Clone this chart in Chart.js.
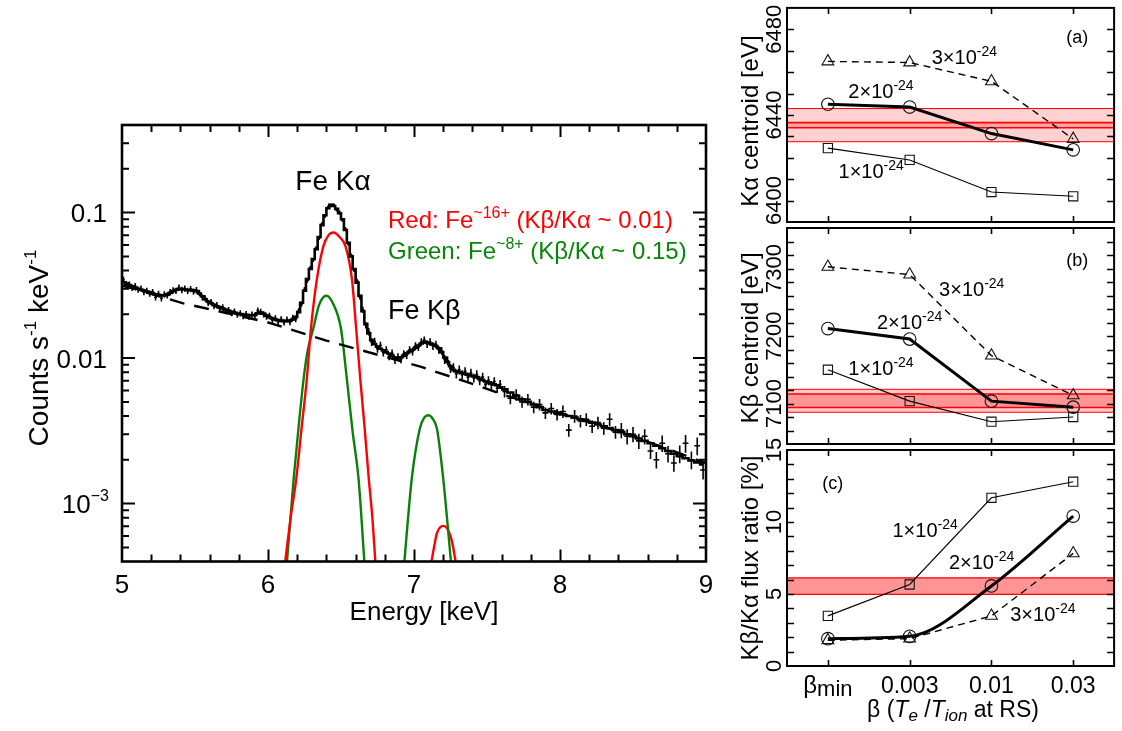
<!DOCTYPE html>
<html><head><meta charset="utf-8">
<script src="https://cdn.jsdelivr.net/npm/chart.js@4.4.1/dist/chart.umd.min.js"></script>
<style>
html,body{margin:0;padding:0;background:#fff;}
#wrap{position:relative;width:1122px;height:731px;overflow:hidden;background:#fff;}
canvas{position:absolute;left:0;top:0;}
</style></head><body><div id="wrap">
<canvas id="cSpec" width="1122" height="731"></canvas>
<canvas id="cA" width="1122" height="731"></canvas>
<canvas id="cB" width="1122" height="731"></canvas>
<canvas id="cC" width="1122" height="731"></canvas>
</div>
<script>
// ===================== DATA: left spectrum =====================
const binE = [
5.01,5.03,5.05,5.07,5.09,5.11,5.13,5.15,5.17,5.19,
5.21,5.23,5.25,5.27,5.29,5.31,5.33,5.35,5.37,5.39,
5.41,5.43,5.45,5.47,5.49,5.51,5.53,5.55,5.57,5.59,
5.61,5.63,5.65,5.67,5.69,5.71,5.73,5.75,5.77,5.79,
5.81,5.83,5.85,5.87,5.89,5.91,5.93,5.95,5.97,5.99,
6.01,6.03,6.05,6.07,6.09,6.11,6.13,6.15,6.17,6.19,
6.21,6.23,6.25,6.27,6.29,6.31,6.33,6.35,6.37,6.39,
6.41,6.43,6.45,6.47,6.49,6.51,6.53,6.55,6.57,6.59,
6.61,6.63,6.65,6.67,6.69,6.71,6.73,6.75,6.77,6.79,
6.81,6.83,6.85,6.87,6.89,6.91,6.93,6.95,6.97,6.99,
7.01,7.03,7.05,7.07,7.09,7.11,7.13,7.15,7.17,7.19,
7.21,7.23,7.25,7.27,7.29,7.31,7.33,7.35,7.37,7.39,
7.41,7.43,7.45,7.47,7.49,7.51,7.53,7.55,7.57,7.59,
7.62,7.66,7.70,7.74,7.78,7.82,7.86,7.90,7.94,7.98,
8.02,8.06,8.10,8.14,8.18,8.22,8.26,8.30,8.34,8.38,
8.42,8.46,8.50,8.54,8.58,8.62,8.66,8.70,8.74,8.78,
8.82,8.86,8.90,8.94,8.98];
const modelCounts = [
0.0330,0.0325,0.0318,0.0311,0.0305,0.0300,0.0295,0.0291,0.0287,0.0283,
0.0279,0.0275,0.0272,0.0270,0.0270,0.0273,0.0280,0.0288,0.0295,0.0298,
0.0298,0.0296,0.0294,0.0293,0.0292,0.0288,0.0278,0.0266,0.0254,0.0245,
0.0238,0.0232,0.0227,0.0223,0.0219,0.0215,0.0211,0.0208,0.0205,0.0202,
0.0200,0.0199,0.0198,0.0197,0.0197,0.0198,0.0203,0.0206,0.0202,0.0196,
0.0191,0.0187,0.0184,0.0182,0.0181,0.0180,0.0180,0.0181,0.0184,0.0192,
0.0207,0.0240,0.0290,0.0350,0.0410,0.0480,0.0560,0.0680,0.0820,0.0960,
0.1070,0.1130,0.1110,0.1060,0.0990,0.0900,0.0760,0.0620,0.0500,0.0410,
0.0330,0.0268,0.0210,0.0172,0.0148,0.0133,0.0125,0.0120,0.0116,0.0113,
0.0110,0.0107,0.0104,0.0101,0.0100,0.0101,0.0104,0.0108,0.0111,0.0114,
0.0118,0.0122,0.0126,0.0129,0.0128,0.0126,0.0124,0.0121,0.0117,0.0110,
0.0101,0.0094,0.0088,0.0083,0.0081,0.0080,0.0079,0.0078,0.0077,0.0076,
0.0075,0.0074,0.0072,0.0071,0.0069,0.0068,0.0067,0.0066,0.0065,0.0063,
0.0061,0.0058,0.0055,0.0052,0.0050,0.0048,0.0046,0.0044,0.0043,0.0042,
0.0041,0.0040,0.0039,0.0038,0.0037,0.0036,0.0035,0.0034,0.0033,0.0032,
0.0031,0.0030,0.0029,0.0028,0.0027,0.0026,0.0025,0.0024,0.0023,0.0022,
0.00212,0.00205,0.00198,0.00192,0.00186];
const dataCounts = [
0.0345,0.0322,0.0320,0.0305,0.0312,0.0296,0.0301,0.0285,0.0290,0.0278,
0.0284,0.0262,0.0276,0.0258,0.0274,0.0270,0.0284,0.0292,0.0290,0.0305,
0.0294,0.0301,0.0290,0.0298,0.0287,0.0293,0.0281,0.0262,0.0258,0.0240,
0.0243,0.0228,0.0231,0.0219,0.0223,0.0211,0.0214,0.0204,0.0209,0.0199,
0.0203,0.0195,0.0201,0.0193,0.0199,0.0196,0.0212,0.0208,0.0200,0.0193,
0.0195,0.0183,0.0188,0.0178,0.0185,0.0176,0.0184,0.0177,0.0189,0.0186,
0.0212,0.0236,0.0296,0.0343,0.0418,0.0472,0.0571,0.0668,0.0835,0.0948,
0.1085,0.1120,0.1125,0.1048,0.1002,0.0889,0.0772,0.0611,0.0508,0.0402,
0.0338,0.0262,0.0215,0.0168,0.0152,0.0129,0.0130,0.0116,0.0122,0.0109,
0.0114,0.0103,0.0108,0.0097,0.0102,0.0098,0.0107,0.0105,0.0114,0.0111,
0.0121,0.0119,0.0129,0.0133,0.0125,0.0129,0.0121,0.0124,0.0114,0.0112,
0.0098,0.0096,0.0085,0.0086,0.0078,0.0083,0.0077,0.0081,0.0074,0.0079,
0.0073,0.0077,0.0070,0.0074,0.0066,0.0070,0.0065,0.0069,0.0062,0.0066,
0.0059,0.0053,0.0056,0.0050,0.0052,0.0046,0.0048,0.0042,0.0045,0.0041,
0.0043,0.0032,0.0040,0.0037,0.0038,0.0034,0.0036,0.0033,0.0038,0.0031,
0.0032,0.0029,0.0030,0.0027,0.0029,0.0023,0.0020,0.0026,0.0022,0.0019,
0.0022,0.0026,0.0020,0.0025,0.0017];
const dataErrPct = [
5,5,5,5,5,5,5,5,5,5, 5,5,5,5,5,5,5,5,5,5, 5,5,5,5,5,5,5,5,5,5,
5,5,5,5,5,5,5,5,5,5, 5,5,5,5,5,5,5,5,5,5, 5,5,5,5,5,5,5,5,5,5,
4,4,4,4,3,3,3,3,3,3, 3,3,3,3,3,3,3,3,3,3,
4,4,5,5,6,6,6,6,6,6, 6,6,6,6,6,6,6,6,6,6,
6,6,6,6,6,6,6,6,6,6, 7,7,7,7,7,7,7,7,7,7, 7,7,7,7,7,7,7,7,7,7,
9,9,9,9,9,9,9,9,9,9, 10,10,10,10,10,10,10,10,10,10,
12,12,12,12,12,12,13,13,13,13, 14,14,14,14,14];
const contE = [5.0, 5.42, 5.99, 6.40, 7.05, 7.41, 7.59, 8.0, 8.5, 9.0];
const contV = [0.0316, 0.0238, 0.0177, 0.0132, 0.0087, 0.0066, 0.0057, 0.0042, 0.0029, 0.0019];
const redKaE = [6.118, 6.155, 6.194, 6.23, 6.266, 6.294, 6.335, 6.38, 6.415, 6.45, 6.49, 6.53, 6.575, 6.604, 6.632, 6.662, 6.69, 6.715, 6.735];
const redKaV = [0.0004, 0.0008, 0.00149, 0.0033, 0.0072, 0.0159, 0.0349, 0.059, 0.070, 0.073, 0.068, 0.059, 0.0349, 0.0159, 0.0072, 0.0033, 0.00149, 0.0008, 0.0004];
const greenKaE = [6.13, 6.176, 6.21, 6.244, 6.27, 6.31, 6.35, 6.40, 6.45, 6.50, 6.54, 6.58, 6.62, 6.66];
const greenKaV = [0.0004, 0.00149, 0.0034, 0.0072, 0.0110, 0.0159, 0.0232, 0.0268, 0.0232, 0.0159, 0.0072, 0.0031, 0.00149, 0.0004];
const greenKbE = [6.934, 6.985, 7.04, 7.07, 7.10, 7.13, 7.157, 7.20, 7.253];
const greenKbV = [0.0004, 0.00149, 0.00328, 0.0039, 0.00405, 0.0038, 0.00328, 0.00149, 0.0004];
const redKbE = [7.12, 7.14, 7.157, 7.20, 7.226, 7.26, 7.285];
const redKbV = [0.0004, 0.00052, 0.000626, 0.000703, 0.000677, 0.00055, 0.0004];
const specXTicks = [5, 6, 7, 8, 9];
const specYTicks = [0.1, 0.01, 0.001];

// ===================== DATA: right panels =====================
const categories = ['βmin', '0.003', '0.01', '0.03'];
const kaN1 = [6424.5, 6419, 6404, 6402];
const kaN2 = [6445, 6443.7, 6431.3, 6423.7];
const kaN3 = [6465, 6464.5, 6455.7, 6428.8];
const kaBandOuter = [6427.5, 6443];
const kaBandInner = [6434, 6436.4];
const kbN1 = [7150, 7103.5, 7073, 7080];
const kbN2 = [7211, 7195.5, 7103.5, 7094.5];
const kbN3 = [7302.5, 7291, 7171, 7112];
const kbBandOuter = [7087, 7121];
const kbBandInner = [7094, 7114];
const ratioN1 = [3.48, 5.66, 11.68, 12.8];
const ratioN2 = [1.9, 2.06, 5.56, 10.41];
const ratioN3 = [1.79, 1.9, 3.48, 7.82];
const ratioBand = [4.97, 6.12];
const kaTicks = [6400, 6440, 6480];
const kbTicks = [7100, 7200, 7300];
const ratioTicks = [0, 5, 10, 15];
const seriesNames = ['1×10', '2×10', '3×10'];
const seriesExp = '-24';

// ===================== helpers =====================
const FONT = "'Liberation Sans', Arial, Helvetica, sans-serif";
function setFont(ctx, size, style) { ctx.font = (style ? style + ' ' : '') + size + 'px ' + FONT; }
function richWidth(ctx, segs) { let w = 0; for (const s of segs) { setFont(ctx, s.size, s.style); w += ctx.measureText(s.t).width; } return w; }
function drawRich(ctx, segs, x, y, align, color) {
  ctx.save(); ctx.textBaseline = 'alphabetic'; ctx.textAlign = 'left';
  const w = richWidth(ctx, segs);
  let cx = align === 'center' ? x - w / 2 : (align === 'right' ? x - w : x);
  for (const s of segs) {
    setFont(ctx, s.size, s.style);
    ctx.fillStyle = s.color || color || '#000';
    ctx.fillText(s.t, cx, y + (s.dy || 0));
    cx += ctx.measureText(s.t).width;
  }
  ctx.restore();
}
function drawRotated(ctx, segs, x, y, color) {
  ctx.save(); ctx.translate(x, y); ctx.rotate(-Math.PI / 2);
  drawRich(ctx, segs, 0, 0, 'center', color); ctx.restore();
}
function S(t, size, o) { return Object.assign({ t: t, size: size }, o || {}); }
const baseOpts = {
  responsive: false, animation: false, devicePixelRatio: 1, events: [],
  plugins: { legend: { display: false }, tooltip: { enabled: false }, title: { display: false } }
};
function xy(xs, ys) { return xs.map((x, i) => ({ x: x, y: ys[i] })); }

// ===================== left spectrum =====================
const errPts = [];
binE.forEach((e, i) => {
  const prev = i > 0 ? e - binE[i - 1] : binE[i + 1] - e;
  const next = i < binE.length - 1 ? binE[i + 1] - e : prev;
  const h = Math.min(prev, next) / 2;
  const v = dataCounts[i], er = v * dataErrPct[i] / 100;
  errPts.push({ x: e - h, y: v }, { x: e + h, y: v }, { x: e, y: null });
  errPts.push({ x: e, y: v - er }, { x: e, y: v + er }, { x: e, y: null });
});

const specPlugin = {
  id: 'specDecor',
  afterDraw(chart) {
    const ctx = chart.ctx, ca = chart.chartArea, xs = chart.scales.x, ys = chart.scales.y;
    ctx.save();
    ctx.strokeStyle = '#000'; ctx.lineWidth = 2;
    ctx.beginPath();
    for (let k = 1; k < 20; k++) {
      const v = 5 + k * 0.2, px = Math.round(xs.getPixelForValue(v)) + 0.5;
      const L = (k % 5 === 0) ? 12 : 7;
      ctx.moveTo(px, ca.bottom); ctx.lineTo(px, ca.bottom - L);
      ctx.moveTo(px, ca.top); ctx.lineTo(px, ca.top + L);
    }
    for (let p = -4; p <= -1; p++) for (let m = 1; m <= 9; m++) {
      const v = m * Math.pow(10, p), py = ys.getPixelForValue(v);
      if (py < ca.top + 1 || py > ca.bottom - 1) continue;
      const L = m === 1 ? 13 : 7;
      ctx.moveTo(ca.left, py); ctx.lineTo(ca.left + L, py);
      ctx.moveTo(ca.right, py); ctx.lineTo(ca.right - L, py);
    }
    ctx.stroke();
    ctx.lineWidth = 2.6;
    ctx.strokeRect(ca.left, ca.top, ca.right - ca.left, ca.bottom - ca.top);
    // tick labels
    specXTicks.forEach(v => drawRich(ctx, [S(String(v), 26)], xs.getPixelForValue(v), ca.bottom + 31.5, 'center'));
    specYTicks.forEach(v => {
      const py = ys.getPixelForValue(v) + 9.5;
      if (v >= 0.01) drawRich(ctx, [S(String(v), 26)], ca.left - 15, py, 'right');
      else drawRich(ctx, [S('10', 26), S('−3', 16, { dy: -12 })], ca.left - 13, py, 'right');
    });
    // axis titles
    drawRich(ctx, [S('Energy [keV]', 26)], 424, 620, 'center');
    drawRotated(ctx, [S('Counts s', 28), S('-1', 17, { dy: -12 }), S(' keV', 28), S('-1', 17, { dy: -12 })], 48, 348);
    // annotations
    drawRich(ctx, [S('Fe Kα', 28)], 333, 190, 'center');
    drawRich(ctx, [S('Fe Kβ', 27)], 388, 319, 'left');
    drawRich(ctx, [S('Red: Fe', 24), S('~16+', 16, { dy: -10 }), S(' (Kβ/Kα ~ 0.01)', 24)], 388, 228, 'left', '#ff0000');
    drawRich(ctx, [S('Green: Fe', 24), S('~8+', 16, { dy: -10 }), S(' (Kβ/Kα ~ 0.15)', 24)], 388, 259, 'left', '#0a850a');
    ctx.restore();
  }
};

new Chart(document.getElementById('cSpec'), {
  type: 'line',
  data: {
    datasets: [
      { data: xy(binE, modelCounts), stepped: 'middle', borderColor: '#000', borderWidth: 2.6, pointRadius: 0, fill: false, order: 1 },
      { data: errPts, borderColor: '#000', borderWidth: 1.6, pointRadius: 0, spanGaps: false, fill: false, order: 2 },
      { data: xy(contE, contV), borderColor: '#000', borderWidth: 2.4, borderDash: [15, 10], pointRadius: 0, fill: false, order: 3 },
      { data: xy(redKaE, redKaV), borderColor: '#ff0000', borderWidth: 2.4, pointRadius: 0, cubicInterpolationMode: 'monotone', fill: false, order: 4 },
      { data: xy(greenKaE, greenKaV), borderColor: '#0a800a', borderWidth: 2.4, pointRadius: 0, cubicInterpolationMode: 'monotone', fill: false, order: 5 },
      { data: xy(greenKbE, greenKbV), borderColor: '#0a800a', borderWidth: 2.4, pointRadius: 0, cubicInterpolationMode: 'monotone', fill: false, order: 6 },
      { data: xy(redKbE, redKbV), borderColor: '#ff0000', borderWidth: 2.4, pointRadius: 0, cubicInterpolationMode: 'monotone', fill: false, order: 7 }
    ]
  },
  options: Object.assign({}, baseOpts, {
    layout: { padding: { left: 122, right: 416, top: 125, bottom: 169.5 } },
    scales: {
      x: { type: 'linear', min: 5, max: 9, display: false },
      y: { type: 'logarithmic', min: 0.0004, max: 0.4, display: false }
    }
  }),
  plugins: [specPlugin]
});

// ===================== right panels =====================
const seriesStyle = [
  { pointStyle: 'rect', radius: 6.5, width: 1.1, dash: [] },
  { pointStyle: 'circle', radius: 6.3, width: 3, dash: [] },
  { pointStyle: 'triangle', radius: 6.8, width: 1.4, dash: [7, 5] }
];
function bandSets(b, fillColor, lw, order) {
  return [
    { data: [{ x: -0.5, y: b[1] }, { x: 3.5, y: b[1] }], borderColor: '#ff0000', borderWidth: lw, pointRadius: 0, fill: '+1', backgroundColor: fillColor, order: order },
    { data: [{ x: -0.5, y: b[0] }, { x: 3.5, y: b[0] }], borderColor: '#ff0000', borderWidth: lw, pointRadius: 0, fill: false, order: order }
  ];
}
function makePanel(cfg) {
  const datasets = [];
  cfg.bands.forEach((b, i) => datasets.push(...bandSets(b.range, b.fill, b.lw, 10 + i)));
  cfg.series.forEach((vals, i) => {
    const st = seriesStyle[i];
    datasets.push({
      data: vals.map((v, k) => ({ x: k, y: v })), borderColor: '#000', borderWidth: st.width, borderDash: st.dash,
      pointStyle: st.pointStyle, pointRadius: st.radius, pointBorderWidth: 1.1, pointBorderColor: '#111',
      pointBackgroundColor: 'rgba(0,0,0,0)', fill: false, order: 3 - i,
      cubicInterpolationMode: (cfg.smooth && i === 1) ? 'monotone' : 'default'
    });
  });
  const plugin = {
    id: 'panelDecor',
    afterDraw(chart) {
      const ctx = chart.ctx, ca = chart.chartArea, xs = chart.scales.x, ys = chart.scales.y;
      ctx.save(); ctx.strokeStyle = '#000'; ctx.lineWidth = 1.6;
      ctx.beginPath();
      for (let v = cfg.yMin + cfg.yStep; v < cfg.yMax - 1e-9; v += cfg.yStep) {
        const py = Math.round(ys.getPixelForValue(v)) + 0.5;
        ctx.moveTo(ca.left, py); ctx.lineTo(ca.left + 7, py);
        ctx.moveTo(ca.right, py); ctx.lineTo(ca.right - 7, py);
      }
      categories.forEach((c, i) => {
        const px = Math.round(xs.getPixelForValue(i)) + 0.5;
        ctx.moveTo(px, ca.top); ctx.lineTo(px, ca.top + 6);
        ctx.moveTo(px, ca.bottom); ctx.lineTo(px, ca.bottom - 6);
      });
      ctx.stroke();
      ctx.lineWidth = 2;
      ctx.strokeRect(ca.left, ca.top, ca.right - ca.left, ca.bottom - ca.top);
      // y tick labels (rotated)
      cfg.ticks.forEach(v => drawRotated(ctx, [S(String(v), 22)], 781, ys.getPixelForValue(v)));
      drawRotated(ctx, cfg.title, 758, cfg.titleY);
      // series labels
      cfg.labels.forEach(l => {
        const px = xs.getPixelForValue(l.x), py = ys.getPixelForValue(l.y) + 7;
        drawRich(ctx, [S(seriesNames[l.s], 20), S(seriesExp, 14, { dy: -8 })], px, py, 'left');
      });
      drawRich(ctx, [S(cfg.tag, 18)], xs.getPixelForValue(cfg.tagPos[0]), ys.getPixelForValue(cfg.tagPos[1]) + 6.5, 'center');
      if (cfg.xLabels) {
        categories.forEach((c, i) => {
          const px = xs.getPixelForValue(i);
          if (c === 'βmin') drawRich(ctx, [S('β', 24), S('min', 22, { dy: 3 })], px, 693, 'center');
          else drawRich(ctx, [S(c, 23)], px, 693, 'center');
        });
        drawRich(ctx, [S('β (', 23), S('T', 23, { style: 'italic' }), S('e', 17, { style: 'italic', dy: 4 }), S(' /', 23),
          S('T', 23, { style: 'italic' }), S('ion', 17, { style: 'italic', dy: 4 }), S(' at RS)', 23)], 953, 717, 'center');
      }
      ctx.restore();
    }
  };
  new Chart(document.getElementById(cfg.id), {
    type: 'line',
    data: { datasets: datasets },
    options: Object.assign({}, baseOpts, {
      layout: { padding: cfg.pad },
      scales: {
        x: { type: 'linear', min: -0.5, max: 3.5, display: false },
        y: { type: 'linear', min: cfg.yMin, max: cfg.yMax, display: false }
      }
    }),
    plugins: [plugin]
  });
}

makePanel({
  id: 'cA', pad: { left: 787, right: 4, top: 5, bottom: 509 }, yMin: 6390, yMax: 6490, yStep: 10, ticks: kaTicks,
  series: [kaN1, kaN2, kaN3],
  bands: [{ range: kaBandOuter, fill: 'rgba(255,0,0,0.18)', lw: 1 }, { range: kaBandInner, fill: 'rgba(255,0,0,0.22)', lw: 1.6 }],
  title: [S('Kα centroid [eV]', 24)], titleY: 121,
  labels: [{ s: 2, x: 1.27, y: 6467 }, { s: 1, x: 0.25, y: 6451 }, { s: 0, x: 0.13, y: 6414 }],
  tag: '(a)', tagPos: [3.05, 6476.6]
});
makePanel({
  id: 'cB', pad: { left: 787, right: 4, top: 228, bottom: 287 }, yMin: 7040, yMax: 7360, yStep: 20, ticks: kbTicks,
  series: [kbN1, kbN2, kbN3],
  bands: [{ range: kbBandOuter, fill: 'rgba(255,0,0,0.22)', lw: 1 }, { range: kbBandInner, fill: 'rgba(255,0,0,0.25)', lw: 1.6 }],
  title: [S('Kβ centroid [eV]', 24)], titleY: 338,
  labels: [{ s: 2, x: 1.36, y: 7270 }, { s: 1, x: 0.60, y: 7221 }, { s: 0, x: 0.25, y: 7153 }],
  tag: '(b)', tagPos: [3.05, 7313]
});
makePanel({
  id: 'cC', pad: { left: 787, right: 4, top: 450, bottom: 65 }, yMin: 0, yMax: 15, yStep: 1, ticks: ratioTicks,
  series: [ratioN1, ratioN2, ratioN3], smooth: true,
  bands: [{ range: ratioBand, fill: 'rgba(255,0,0,0.42)', lw: 1.2 }],
  title: [S('Kβ/Kα flux ratio [%]', 24)], titleY: 558,
  labels: [{ s: 0, x: 0.79, y: 9.44 }, { s: 1, x: 1.48, y: 7.21 }, { s: 2, x: 2.23, y: 3.6 }],
  tag: '(c)', tagPos: [0.06, 12.77], xLabels: true
});
</script></body></html>
